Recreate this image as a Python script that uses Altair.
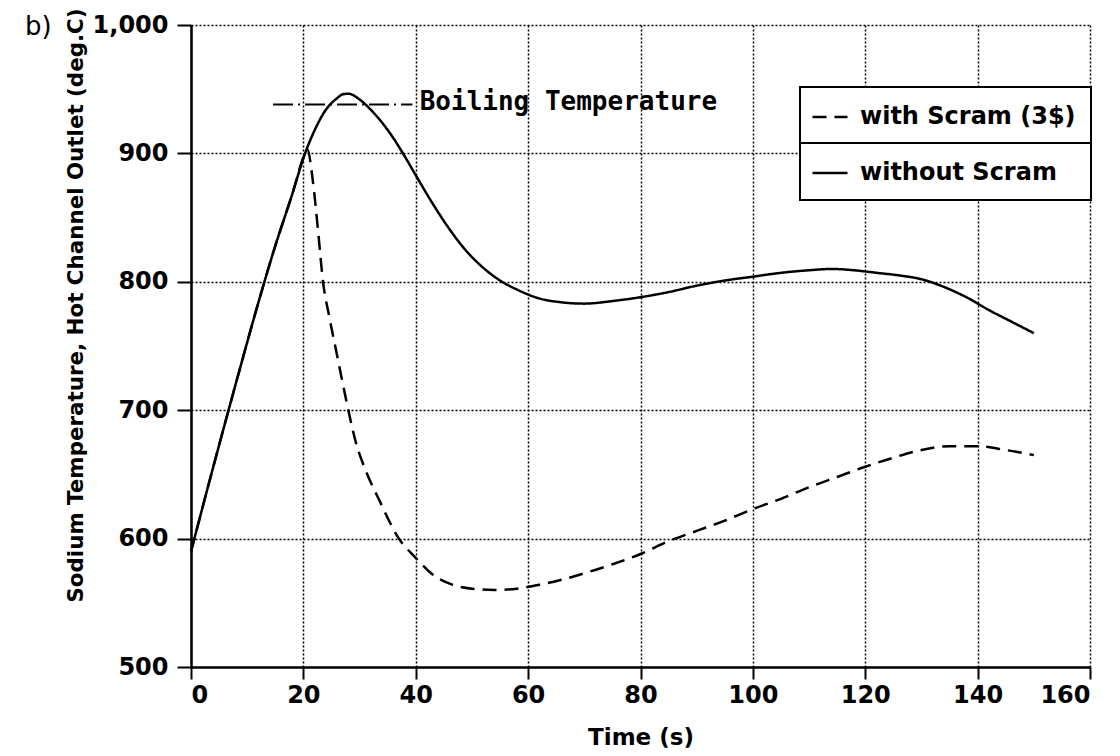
import altair as alt
import pandas as pd

# ---- data ----
series_names = ["with Scram (3$)", "without Scram"]

t_without = [0, 3, 6, 9, 12, 15, 18, 20.3, 22, 24, 26, 27, 28, 30, 32, 34, 36, 38, 40, 43,
             46, 49, 52, 55, 58, 62, 66, 70, 75, 80, 85, 90, 95, 100, 105, 110, 114, 118,
             122, 126, 130, 134, 138, 142, 146, 150]
T_without = [590, 640, 689, 737, 784, 828, 868, 900, 918, 934, 943, 946, 946.5, 942, 934,
             924, 912, 898, 883, 861, 841, 824, 811, 801, 794, 787, 784, 783, 785, 788,
             792, 797, 801, 804, 807, 809, 810, 809, 807, 805, 802, 796, 788, 778, 769, 760]

t_with = [0, 3, 6, 9, 12, 15, 18, 20.3, 20.7, 21.7, 22.5, 23.5, 24.6, 25.8, 27, 28, 29.4,
          31, 33.5, 37, 40, 43, 46.6, 50, 54, 58, 62, 66, 70, 75, 80, 85, 90, 95, 100,
          105, 110, 115, 120, 125, 130, 135, 140, 145, 150]
T_with = [590, 640, 689, 737, 784, 828, 868, 900, 903, 878, 845, 800, 773, 747, 721, 700,
          674, 654, 630, 600, 585, 572, 564, 561, 560, 561, 564, 568, 573, 580, 588, 598,
          606, 614, 623, 631, 640, 648, 656, 663, 669, 672, 672, 669, 665]

boil_t = [14.6, 39.4]
boil_T = [938, 938]
boil_label = ["Boiling Temperature"]
boil_label_t = [40.7]

x_ticks = [0, 20, 40, 60, 80, 100, 120, 140, 160]
y_ticks = [500, 600, 700, 800, 900, 1000]

panel_label = ["b)"]

# ---- tables ----
df = pd.concat([
    pd.DataFrame({"t": t_with, "T": T_with, "series": series_names[0]}),
    pd.DataFrame({"t": t_without, "T": T_without, "series": series_names[1]}),
])
boil_df = pd.DataFrame({"t": boil_t, "T": boil_T})
boil_txt = pd.DataFrame({"t": boil_label_t, "T": [boil_T[0]], "label": boil_label})

FONT = "DejaVu Sans"
W, H = 899, 642

x_enc = alt.X("t:Q", scale=alt.Scale(domain=[0, 160], nice=False, zero=False),
              axis=alt.Axis(values=x_ticks, format="d", title="Time (s)", titleY=70,
                            titleFontSize=23,
                            titleBaseline="middle", tickSize=12, labelPadding=4))
y_enc = alt.Y("T:Q", scale=alt.Scale(domain=[500, 1000], nice=False, zero=False),
              axis=alt.Axis(values=y_ticks, format=",d",
                            title="Sodium Temperature, Hot Channel Outlet (deg.C)",
                            titleFontSize=21.4,
                            titleAngle=270, titleX=-115, titleY=280,
                            titleAlign="center", titleBaseline="middle",
                            tickSize=14, labelPadding=9))

lines = alt.Chart(df).mark_line(interpolate="monotone", strokeWidth=2.5, color="black").encode(
    x=x_enc, y=y_enc,
    strokeDash=alt.StrokeDash(
        "series:N",
        scale=alt.Scale(domain=series_names, range=[[14, 8], [1, 0]]),
        legend=alt.Legend(title=None, orient="none", legendX=609, legendY=62,
                          padding=11, rowPadding=25,
                          symbolType="stroke", symbolSize=1225, symbolStrokeWidth=2.5,
                          symbolStrokeColor="black", labelFontSize=24, labelFont=FONT,
                          labelFontWeight="bold",
                          labelOffset=11, labelColor="black", labelLimit=400),
    ),
)

boil_line = alt.Chart(boil_df).mark_line(color="black", strokeWidth=2,
                                         strokeDash=[20, 5, 2, 5]).encode(
    x="t:Q", y="T:Q")

boil_text = alt.Chart(boil_txt).mark_text(align="left", baseline="middle", dy=-3,
                                          font="DejaVu Sans Mono", fontSize=26,
                                          fontWeight="bold", color="black").encode(
    x="t:Q", y="T:Q", text="label:N")

legend_box = alt.Chart(pd.DataFrame({"d": [0]})).mark_rect(
    fill="white", stroke="black", strokeWidth=2).encode(
    x=alt.value(609), x2=alt.value(900), y=alt.value(62), y2=alt.value(175))

divider = alt.Chart(pd.DataFrame({"d": [0]})).mark_rule(color="black", strokeWidth=2).encode(
    x=alt.value(609), x2=alt.value(900), y=alt.value(118))

panel = alt.Chart(pd.DataFrame({"label": panel_label})).mark_text(
    align="left", baseline="middle", fontSize=26, font=FONT, fontWeight="normal",
    color="black").encode(
    x=alt.value(-166), y=alt.value(2), text="label:N")

chart = alt.layer(lines, legend_box, divider, boil_line, boil_text, panel).properties(
    width=W, height=H,
    autosize=alt.AutoSizeParams(type="none"),
    padding={"left": 191, "top": 25, "right": 30, "bottom": 89},
    background="white",
).configure_view(strokeWidth=0).configure_axis(
    labelFont=FONT, labelFontSize=24, labelColor="black", labelFontWeight="bold",
    titleFont=FONT, titleFontSize=22, titleColor="black", titleFontWeight="bold",
    domainColor="black", domainWidth=2.5,
    tickColor="black", tickWidth=2,
    grid=True, gridColor="black", gridDash=[2, 2], gridWidth=1.5, gridOpacity=1,
)

chart.save("out.html", embed_options={"renderer": "svg", "actions": False})
